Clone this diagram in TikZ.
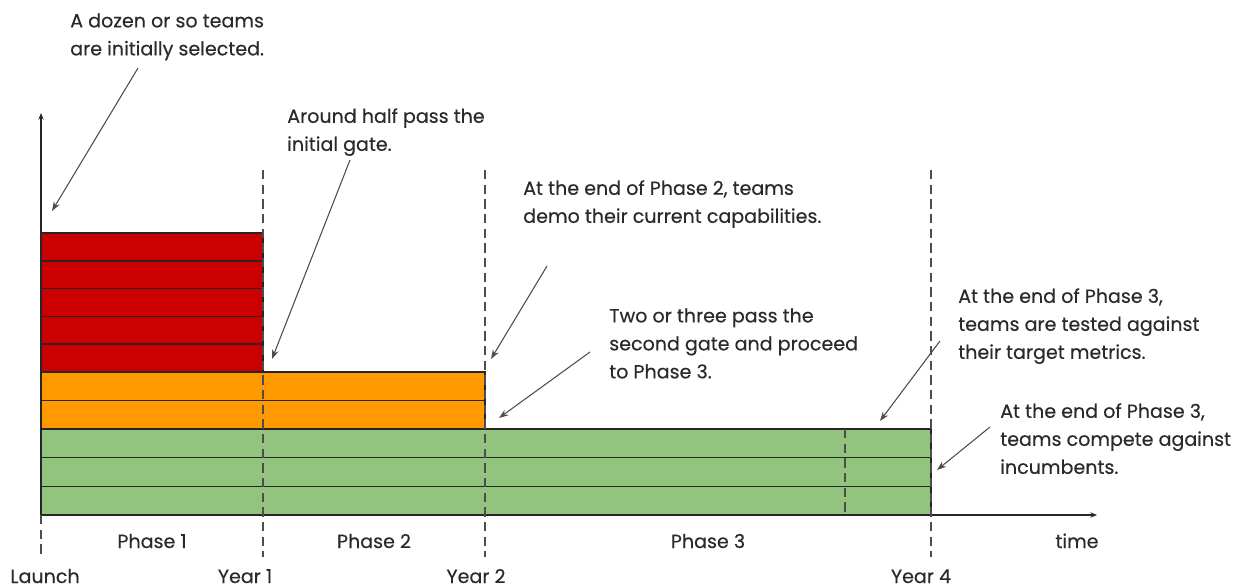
\documentclass[tikz,border=0pt]{standalone}
\usepackage{fontspec}
\setmainfont{Poppins}[FakeBold=0.3]
\usetikzlibrary{arrows.meta}
\definecolor{txt}{HTML}{2A2A2A}
\definecolor{redbar}{HTML}{CC0000}
\definecolor{orangebar}{HTML}{FF9900}
\definecolor{greenbar}{HTML}{93C47D}
\definecolor{edge}{HTML}{262626}
\definecolor{pointer}{HTML}{4D4D4D}
\tikzset{
  bar/.style={draw=edge, line width=1.1pt},
  yearline/.style={draw=pointer, line width=0.8pt, dash pattern=on 7pt off 4pt},
  note/.style={anchor=north west, inner sep=0pt, align=left, text=txt,
    font=\fontsize{14.3pt}{21pt}\selectfont},
  lbl/.style={anchor=base, inner sep=0pt, text=txt, font=\fontsize{14.3pt}{21pt}\selectfont},
  pointerarrow/.style={draw=pointer, line width=0.8pt, -{Stealth[length=7pt,width=5pt]}},
  axis/.style={draw=edge, line width=0.9pt, -{Stealth[length=5pt,width=4pt]}}
}
\begin{document}
\begin{tikzpicture}[x=0.75pt,y=-0.75pt]
\useasboundingbox (0,0) rectangle (1237,588);
% bars
\foreach \t/\b in {429/457.7,457.7/486.3,486.3/515} {
  \draw[bar, fill=greenbar] (41,\t) rectangle (931,\b);
}
\foreach \t/\b in {372/400.5,400.5/429} {
  \draw[bar, fill=orangebar] (41,\t) rectangle (485,\b);
}
\foreach \t/\b in {233/260.8,260.8/288.6,288.6/316.4,316.4/344.2,344.2/372} {
  \draw[bar, fill=redbar] (41,\t) rectangle (263,\b);
}
% axes
\coordinate (origin) at (41,515);
\coordinate (ytop) at (41,113);
\coordinate (xend) at (1097,515);
\draw[axis] (origin) -- (ytop);
\draw[axis] (origin) -- (xend);
% dashed year lines
\coordinate (l0) at (41,515); \coordinate (l1) at (41,557);
\draw[yearline] (l0) -- (l1);
\coordinate (y1t) at (263,170); \coordinate (y1b) at (263,557);
\draw[yearline] (y1t) -- (y1b);
\coordinate (y2t) at (485,170); \coordinate (y2b) at (485,557);
\draw[yearline] (y2t) -- (y2b);
\coordinate (y4t) at (931,170); \coordinate (y4b) at (931,557);
\draw[yearline] (y4t) -- (y4b);
\coordinate (m3t) at (845,429); \coordinate (m3b) at (845,517);
\draw[yearline] (m3t) -- (m3b);
% bottom labels
\node[lbl] (launch) at (45,583) {Launch};
\node[lbl] (yr1) at (245,583) {Year 1};
\node[lbl] (yr2) at (476,583) {Year 2};
\node[lbl] (yr4) at (921,583) {Year 4};
\node[lbl] (ph1) at (152,548) {Phase 1};
\node[lbl] (ph2) at (374,548) {Phase 2};
\node[lbl] (ph3) at (708,548) {Phase 3};
\node[lbl] (time) at (1077,548) {time};
% annotations
\node[note] (n1) at (70,13) {A dozen or so teams\\are initially selected.};
\node[note] (n2) at (287,108) {Around half pass the\\initial gate.};
\node[note] (n3) at (523,180) {At the end of Phase 2, teams\\demo their current capabilities.};
\node[note] (n4) at (609,308) {Two or three pass the\\second gate and proceed\\to Phase 3.};
\node[note] (n5) at (958,288) {At the end of Phase 3,\\teams are tested against\\their target metrics.};
\node[note] (n6) at (1000,403) {At the end of Phase 3,\\teams compete against\\incumbents.};
% pointers
\coordinate (a1s) at (138,68);  \coordinate (a1e) at (52,211);
\coordinate (a2s) at (350,160); \coordinate (a2e) at (272,359);
\coordinate (a3s) at (547,266); \coordinate (a3e) at (491,359);
\coordinate (a4s) at (590,352); \coordinate (a4e) at (499,418);
\coordinate (a5s) at (940,341); \coordinate (a5e) at (880,421);
\coordinate (a6s) at (990,427); \coordinate (a6e) at (937,470);
\draw[pointerarrow] (a1s) -- (a1e);
\draw[pointerarrow] (a2s) -- (a2e);
\draw[pointerarrow] (a3s) -- (a3e);
\draw[pointerarrow] (a4s) -- (a4e);
\draw[pointerarrow] (a5s) -- (a5e);
\draw[pointerarrow] (a6s) -- (a6e);
\end{tikzpicture}
\end{document}
